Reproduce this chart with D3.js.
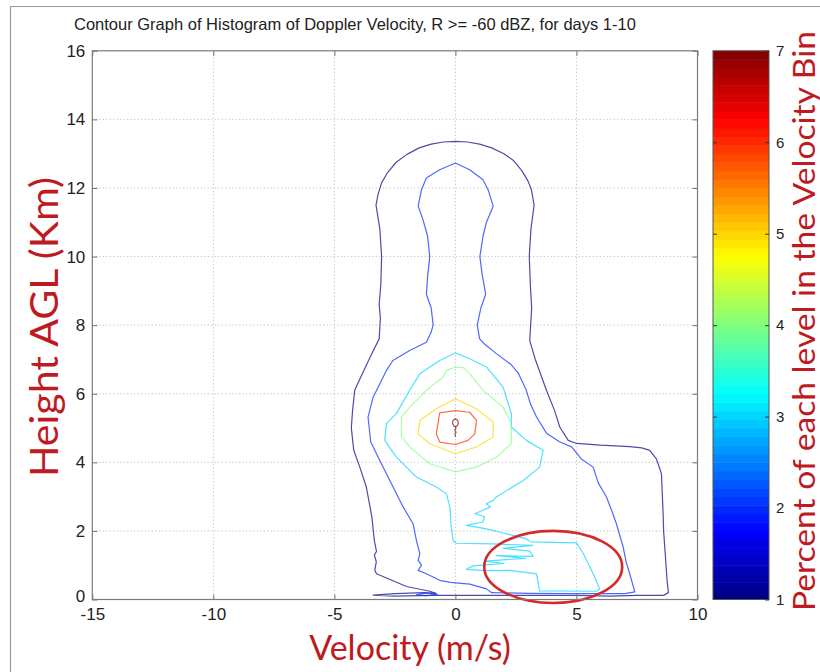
<!DOCTYPE html>
<html>
<head>
<meta charset="utf-8">
<script src="https://cdn.jsdelivr.net/npm/d3@7"></script>
<style>
  body { margin: 0; background: #fff; }
  svg { display: block; }
</style>
</head>
<body>
<svg id="chart" width="820" height="672"></svg>
<script>
// ---- text ----
const titleText = "Contour Graph of Histogram of Doppler Velocity, R >= -60 dBZ, for days 1-10";
const xLabelText = "Velocity (m/s)";
const yLabelText = "Height AGL (Km)";
const cbLabelText = "Percent of each level in the Velocity Bin";

// ---- ticks ----
const xTicks = [-15, -10, -5, 0, 5, 10];
const yTicks = [0, 2, 4, 6, 8, 10, 12, 14, 16];
const cbTicks = [1, 2, 3, 4, 5, 6, 7];

// ---- contour levels (percent) and their traced outlines [velocity m/s, height km] ----
const contourLevels = [1, 2, 3, 4, 5, 6, 7];

const level1Ring = [
  [0,13.36],[0.5,13.34],[1.0,13.28],[1.5,13.17],[2.0,13.0],[2.4,12.8],[2.75,12.5],[3.0,12.2],
  [3.14,11.95],[3.25,11.5],[3.12,10.8],[3.05,10.0],[3.1,9.1],[3.15,8.5],[3.1,7.9],[3.07,7.55],
  [3.3,7.0],[3.76,6.1],[4.1,5.5],[4.31,5.03],[4.66,4.64],[5.0,4.55],[6.0,4.5],[7.2,4.46],
  [7.7,4.42],[8.03,4.35],[8.3,4.1],[8.4,3.9],[8.51,3.67],[8.55,3.0],[8.58,2.5],[8.6,2.0],
  [8.65,1.5],[8.7,1.0],[8.75,0.5],[8.8,0.2],[8.6,0.12],[7.5,0.12],[6.4,0.1],[5,0.12],[3,0.12],
  [1,0.12],[-1,0.12],[-2.5,0.1],[-3.4,0.13],[-2.5,0.17],[-1.3,0.2],[-0.8,0.18],[-1.06,0.24],
  [-2.02,0.38],[-3.26,0.75],[-3.33,0.85],[-3.27,1.1],[-3.35,1.3],[-3.26,1.4],[-3.35,1.72],
  [-3.45,2.4],[-3.68,3.28],[-3.95,3.86],[-4.2,4.35],[-4.3,5.0],[-4.25,5.5],[-4.16,6.1],
  [-3.9,6.5],[-3.5,7.1],[-3.15,7.6],[-3.1,8.2],[-3.15,8.6],[-3.08,9.2],[-3.05,10.0],
  [-3.12,10.8],[-3.28,11.5],[-3.2,11.8],[-3.05,12.15],[-2.8,12.45],[-2.45,12.75],[-2.0,12.98],
  [-1.5,13.17],[-1.0,13.28],[-0.5,13.34]
];

const level2Ring = [
  [0,12.73],[0.59,12.53],[1.14,12.24],[1.35,11.95],[1.56,11.47],[1.4,11.2],[1.28,11.0],
  [1.14,10.6],[1.01,10.0],[1.1,9.5],[1.2,9.1],[1.25,8.9],[1.05,8.5],[0.9,8.0],[1.0,7.6],
  [1.2,7.45],[1.69,7.17],[2.3,6.85],[2.6,6.6],[2.93,6.1],[3.1,5.7],[3.35,5.32],[3.76,4.85],
  [4.3,4.6],[4.8,4.45],[5.2,4.1],[5.69,3.86],[5.9,3.4],[6.24,2.99],[6.45,2.6],[6.65,2.21],
  [6.93,1.53],[7.05,1.1],[7.2,0.75],[7.41,0.22],[7,0.17],[5,0.17],[3,0.18],[1.5,0.2],
  [1.28,0.31],[0.59,0.45],[-0.2,0.5],[-0.65,0.56],[-1.2,0.75],[-1.54,0.85],[-1.4,1.0],
  [-1.54,1.14],[-1.47,1.34],[-1.55,1.55],[-1.61,1.72],[-1.75,2.21],[-2.16,2.70],[-2.71,3.47],
  [-3.13,4.06],[-3.5,4.6],[-3.61,5.32],[-3.4,5.9],[-2.85,6.68],[-2.58,6.97],[-1.89,7.26],
  [-1.2,7.5],[-1.0,7.8],[-0.92,8.0],[-1.0,8.5],[-1.2,8.9],[-1.15,9.4],[-1.06,10.0],
  [-1.15,10.6],[-1.35,11.1],[-1.54,11.47],[-1.4,11.95],[-1.2,12.29],[-0.65,12.53]
];
const level2Islet = [[-1.6,0.14],[-1.2,0.19],[-0.75,0.15],[-1.2,0.11]];

const level3Ring = [
  [0,7.19],[0.59,7.02],[1.28,6.78],[1.97,6.19],[2.31,5.42],[2.31,5.03],[2.93,4.64],[3.62,4.35],
  [3.48,3.86],[2.8,3.47],[1.69,2.99],[1.56,2.89],[1.28,2.79],[1.45,2.7],[0.8,2.5],[1.2,2.42],
  [1.14,2.26],[0.45,2.16],[1.28,2.06],[1.97,1.94],[2.93,1.77],[3.1,1.68],[5.0,1.65],
  [5.28,1.34],[5.69,0.75],[5.96,0.31],[5.83,0.24],[3.48,0.25],[3.35,0.75],[2.25,0.85],
  [1.28,0.84],[0.45,0.88],[0.73,0.98],[2.0,1.05],[1.2,1.12],[2.9,1.2],[1.69,1.28],[3.21,1.26],
  [3.07,1.41],[1.97,1.49],[3.2,1.58],[1.5,1.62],[0.04,1.64],[-0.1,1.72],[-0.17,2.11],
  [-0.23,2.70],[-0.37,3.08],[-0.79,3.28],[-1.61,3.57],[-2.44,4.15],[-2.92,4.64],[-2.85,5.13],
  [-2.44,5.42],[-1.89,6.10],[-1.47,6.58],[-0.65,6.97]
];

const level4Ring = [
  [0,6.78],[0.32,6.76],[0.59,6.58],[1.14,6.10],[1.97,5.61],[2.31,5.13],[2.31,4.54],[1.69,4.15],
  [0.87,3.86],[0,3.72],[-1.06,3.96],[-1.89,4.45],[-2.23,4.74],[-2.23,5.32],[-1.89,5.61],
  [-1.2,6.10],[-0.51,6.49],[-0.37,6.68]
];

const level5Ring = [
  [0,5.85],[0.87,5.56],[1.56,5.17],[1.56,4.74],[0.87,4.45],[0,4.25],[-1.06,4.54],[-1.54,4.83],
  [-1.47,5.22],[-0.79,5.56]
];

const level6Ring = [
  [0,5.51],[0.59,5.46],[0.87,5.22],[0.8,4.83],[0.52,4.64],[0,4.52],[-0.65,4.59],[-0.79,4.83],
  [-0.72,5.13],[-0.65,5.44]
];

const level7Ring = [[0,5.27],[0.1,5.22],[0.12,5.13],[0.06,5.05],[0,5.04],[-0.06,5.05],[-0.12,5.13],[-0.1,5.22]];
const level7Tail = [[0,5.04],[0.02,4.98],[-0.03,4.93],[0.03,4.88],[-0.02,4.82],[0.01,4.74]];

// red annotation ellipse around the low-level lobe: centre [velocity, height], radii
const highlightCentre = [4.04, 0.95];
const highlightRadii = [2.85, 1.05];

// ---- layout ----
const svg = d3.select("#chart");
const plot = { left: 92.3, right: 697.5, top: 50.8, bottom: 599.5 };
const cb = { left: 713, right: 769 };

const x = d3.scaleLinear().domain([-15, 10]).range([plot.left, plot.right]);
const y = d3.scaleLinear().domain([0, 16]).range([plot.bottom, plot.top]);
const cbY = d3.scaleLinear().domain([1, 7]).range([plot.bottom, plot.top]);

// MATLAB-style jet colour map
function jet(t) {
  const c = v => Math.max(0, Math.min(1, v));
  const r = c(1.5 - Math.abs(4 * t - 3));
  const g = c(1.5 - Math.abs(4 * t - 2));
  const b = c(1.5 - Math.abs(4 * t - 1));
  return d3.rgb(r * 255, g * 255, b * 255).formatHex();
}
const levelT = d3.scaleLinear().domain([1, 7]).range([0, 1]);
const levelColor = v => jet(levelT(v));

// outer frame of the figure
svg.append("path")
  .attr("d", "M10.5,672 L10.5,6.5 L820,6.5")
  .attr("fill", "none").attr("stroke", "#9a9a9a").attr("stroke-width", 1.2);

// grid
const grid = svg.append("g").attr("stroke", "#b5b5b5").attr("stroke-width", 1)
  .attr("stroke-dasharray", "1,2.5");
xTicks.slice(1, -1).forEach(v => grid.append("line")
  .attr("x1", x(v)).attr("x2", x(v)).attr("y1", plot.top).attr("y2", plot.bottom));
yTicks.slice(1, -1).forEach(v => grid.append("line")
  .attr("y1", y(v)).attr("y2", y(v)).attr("x1", plot.left).attr("x2", plot.right));

// contours
const ring = d3.line().x(d => x(d[0])).y(d => y(d[1])).curve(d3.curveLinearClosed);
const open = d3.line().x(d => x(d[0])).y(d => y(d[1]));
const contourSet = [
  { level: contourLevels[0], rings: [level1Ring], tails: [] },
  { level: contourLevels[1], rings: [level2Ring, level2Islet], tails: [] },
  { level: contourLevels[2], rings: [level3Ring], tails: [] },
  { level: contourLevels[3], rings: [level4Ring], tails: [] },
  { level: contourLevels[4], rings: [level5Ring], tails: [] },
  { level: contourLevels[5], rings: [level6Ring], tails: [] },
  { level: contourLevels[6], rings: [level7Ring], tails: [level7Tail] }
];
const cg = svg.append("g").attr("fill", "none").attr("stroke-linejoin", "round");
contourSet.forEach(c => {
  c.rings.forEach(r => cg.append("path").attr("d", ring(r))
    .attr("stroke", levelColor(c.level)).attr("stroke-width", 1.2).attr("stroke-opacity", 0.7));
  c.tails.forEach(r => cg.append("path").attr("d", open(r))
    .attr("stroke", levelColor(c.level)).attr("stroke-width", 1.2).attr("stroke-opacity", 0.7));
});

// highlight ellipse
svg.append("ellipse")
  .attr("cx", x(highlightCentre[0])).attr("cy", y(highlightCentre[1]))
  .attr("rx", x(highlightCentre[0] + highlightRadii[0]) - x(highlightCentre[0]))
  .attr("ry", y(highlightCentre[1]) - y(highlightCentre[1] + highlightRadii[1]))
  .attr("fill", "none").attr("stroke", "#d42a2a").attr("stroke-width", 2.6);

// axes
const tickFont = "'Liberation Sans', Arial, sans-serif";
const plainNum = d => String(d);
function styleAxis(g, showText) {
  g.select(".domain").remove();
  g.selectAll(".tick line").attr("stroke", "#707070");
  g.selectAll(".tick text").attr("fill", "#222").style("font-family", tickFont)
    .style("font-size", "17px");
  if (!showText) g.selectAll(".tick text").remove();
}
svg.append("g").attr("transform", `translate(0,${plot.bottom})`)
  .call(d3.axisBottom(x).tickValues(xTicks).tickFormat(plainNum)
    .tickSizeInner(-5).tickSizeOuter(0).tickPadding(8))
  .call(g => styleAxis(g, true));
svg.append("g").attr("transform", `translate(0,${plot.top})`)
  .call(d3.axisTop(x).tickValues(xTicks).tickSizeInner(-5).tickSizeOuter(0))
  .call(g => styleAxis(g, false));
const yAxisG = svg.append("g").attr("transform", `translate(${plot.left},0)`)
  .call(d3.axisLeft(y).tickValues(yTicks).tickFormat(plainNum)
    .tickSizeInner(-5).tickSizeOuter(0).tickPadding(7))
  .call(g => styleAxis(g, true));
// the zero label sits slightly raised so it clears the "-15" below it
yAxisG.selectAll(".tick text").filter(d => d === 0).attr("dy", "0.1em");
svg.append("g").attr("transform", `translate(${plot.right},0)`)
  .call(d3.axisRight(y).tickValues(yTicks).tickSizeInner(-5).tickSizeOuter(0))
  .call(g => styleAxis(g, false));
svg.append("rect")
  .attr("x", plot.left).attr("y", plot.top)
  .attr("width", plot.right - plot.left).attr("height", plot.bottom - plot.top)
  .attr("fill", "none").attr("stroke", "#7a7a7a").attr("stroke-width", 1.2);

// colour bar (64 bands)
const nBands = 64;
const bandStep = (cbTicks[cbTicks.length - 1] - cbTicks[0]) / nBands;
const bands = d3.range(nBands).map(i => cbTicks[0] + i * bandStep);
svg.append("g").selectAll("rect").data(bands).join("rect")
  .attr("x", cb.left).attr("width", cb.right - cb.left)
  .attr("y", d => cbY(d + bandStep))
  .attr("height", d => cbY(d) - cbY(d + bandStep) + 0.5)
  .attr("fill", d => jet((d - cbTicks[0] + bandStep / 2) / (cbTicks[cbTicks.length - 1] - cbTicks[0])));
svg.append("rect")
  .attr("x", cb.left).attr("y", plot.top)
  .attr("width", cb.right - cb.left).attr("height", plot.bottom - plot.top)
  .attr("fill", "none").attr("stroke", "#555").attr("stroke-width", 1);
const cbAxis = svg.append("g").attr("transform", `translate(${cb.right},0)`)
  .call(d3.axisRight(cbY).tickValues(cbTicks).tickFormat(plainNum)
    .tickSizeInner(-4).tickSizeOuter(0).tickPadding(7));
cbAxis.select(".domain").remove();
cbAxis.selectAll(".tick line").attr("stroke", "#333");
cbAxis.selectAll(".tick text").attr("fill", "#222").style("font-family", tickFont)
  .style("font-size", "15px");
svg.append("g").attr("transform", `translate(${cb.left},0)`)
  .call(d3.axisRight(cbY).tickValues(cbTicks.slice(1, -1)).tickSize(4).tickFormat(""))
  .call(g => { g.select(".domain").remove(); g.selectAll("line").attr("stroke", "#333"); });

// title and labels
svg.append("text").attr("x", 74).attr("y", 30)
  .style("font-family", tickFont).style("font-size", "16.5px").attr("fill", "#222")
  .text(titleText);
const labelFont = "Lato, 'Open Sans', sans-serif";
const labelColor = "#be1a1f";
svg.append("text").attr("x", 410).attr("y", 660).attr("text-anchor", "middle")
  .style("font-family", labelFont).style("font-size", "34px").attr("fill", labelColor)
  .text(xLabelText);
svg.append("text").attr("transform", "translate(58,327) rotate(-90)").attr("text-anchor", "middle")
  .style("font-family", labelFont).style("font-size", "38px").attr("fill", labelColor)
  .attr("textLength", 300).attr("lengthAdjust", "spacingAndGlyphs")
  .text(yLabelText);
svg.append("text").attr("transform", "translate(815,321) rotate(-90)").attr("text-anchor", "middle")
  .style("font-family", labelFont).style("font-size", "30px").attr("fill", labelColor)
  .attr("textLength", 580).attr("lengthAdjust", "spacingAndGlyphs")
  .text(cbLabelText);
</script>
</body>
</html>
